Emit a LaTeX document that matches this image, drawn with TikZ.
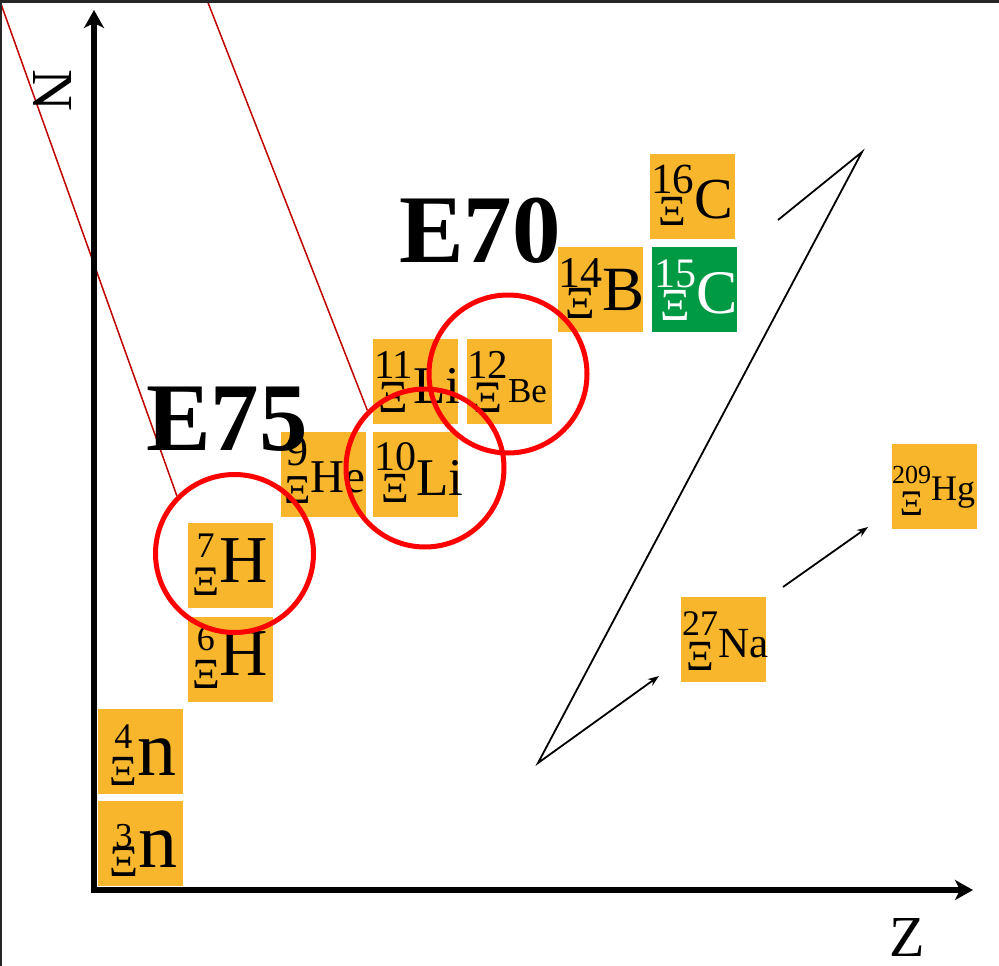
\documentclass[tikz,border=0pt]{standalone}
\usepackage{fontspec}
\setmainfont{Liberation Serif}
\usetikzlibrary{arrows.meta}
\definecolor{nucorange}{HTML}{F8B62D}
\definecolor{nucgreen}{HTML}{009A44}
\definecolor{ringred}{HTML}{FF0000}
\definecolor{guidered}{HTML}{C00000}
\definecolor{framegray}{HTML}{262626}
\newsavebox\nucAbox
\newsavebox\nucXbox
\newlength\nucwd
% #1 mass, #2 size, #3 raise, #4 Xi size, #5 Xi lower, #6 symbol, #7 symbol size
\newcommand\nucl[7]{%
  \sbox\nucAbox{\fontsize{#2pt}{#2pt}\selectfont #1}%
  \sbox\nucXbox{\fontsize{#4pt}{#4pt}\selectfont Ξ}%
  \ifdim\wd\nucAbox>\wd\nucXbox\setlength\nucwd{\wd\nucAbox}\else\setlength\nucwd{\wd\nucXbox}\fi
  \makebox[\nucwd]{\raisebox{#3pt}{\usebox\nucAbox}}\kern-\nucwd
  \makebox[\nucwd]{\raisebox{-#5pt}{\usebox\nucXbox}}%
  {\fontsize{#7pt}{#7pt}\selectfont #6}}
% #1 left pad, #2 baseline above bottom, #3 content
\newcommand\nucbx[3]{\makebox[85pt][l]{\kern#1pt\raisebox{0pt}[\dimexpr85pt-#2pt\relax][#2pt]{#3}}}
\begin{document}
\begin{tikzpicture}[x=1pt,y=-1pt,
  nucbox/.style={fill=nucorange, inner sep=0pt, outer sep=0pt},
  greenbox/.style={nucbox, fill=nucgreen, text=white},
  ring/.style={circle, draw=ringred, line width=5pt, minimum size=158pt, inner sep=0pt},
  guide/.style={draw=guidered, line width=1.5pt},
  flow/.style={draw=black, line width=1.8pt, -{Stealth[length=11pt,width=8pt]}},
  axis/.style={draw=black, line width=6pt, line join=miter,
    {Stealth[length=18pt,width=20pt,inset=5pt]}-{Stealth[length=18pt,width=20pt,inset=5pt]}},
  bigtag/.style={font=\fontsize{97pt}{97pt}\selectfont\bfseries, anchor=base west, inner sep=0pt},
  axislabel/.style={font=\fontsize{58pt}{58pt}\selectfont, inner sep=0pt}
]
\useasboundingbox (0,0) rectangle (999,966);
\fill[white] (0,0) rectangle (999,966);

% guide lines from the top
\coordinate (g1) at (-0.4,0);
\coordinate (g2) at (207,0);

% nuclide boxes
\node[nucbox] (n3)  at (140,843.5)   {\nucbx{12}{19}{\nucl{3}{35}{20}{45}{9}{n}{78}}};
\node[nucbox] (n4)  at (140,751.5)   {\nucbx{12}{19}{\nucl{4}{36}{27}{43}{10}{n}{78}}};
\node[nucbox] (h6)  at (230.5,659.5) {\nucbx{4}{27}{\nucl{6}{36}{25}{43}{13}{H}{67}}};
\node[nucbox] (h7)  at (230.5,565.5) {\nucbx{4}{26}{\nucl{7}{36}{25}{42}{13}{H}{67}}};
\node[nucbox] (he9) at (323.5,474.5) {\nucbx{3}{25}{\nucl{9}{44}{27}{41}{11}{He}{47}}};
\node[nucbox] (li10) at (415.5,474.5) {\nucbx{1}{22}{\nucl{10}{42}{25}{43}{7}{Li}{53}}};
\node[nucbox] (li11) at (415.5,381.5) {\nucbx{1}{21}{\nucl{11}{41}{25}{46}{9}{Li}{53}}};
\node[nucbox] (be12) at (509.5,381.5) {\nucbx{0}{22}{\nucl{12}{41}{24}{45}{10}{Be}{35}}};
\node[nucbox] (b14) at (600.5,289.5) {\nucbx{0}{22}{\nucl{14}{44}{23}{46}{8}{B}{63}}};
\node[greenbox] (c15) at (694.5,289.5) {\nucbx{2}{19}{\nucl{15}{42}{26}{46}{7}{C}{62}}};
\node[nucbox] (c16) at (692.5,196.5) {\nucbx{1}{21}{\nucl{16}{43}{25}{43}{7}{C}{58}}};
\node[nucbox] (na27) at (723.5,639.5) {\nucbx{1}{25}{\nucl{27}{36}{22}{43}{13}{Na}{43}}};
\node[nucbox] (hg209) at (934.5,486.5) {\nucbx{0}{29}{\nucl{209}{26}{17}{36}{15}{Hg}{36}}};

% rings
\node[ring] (r7)  at (234.5,553.5) {};
\node[ring] (r10) at (425,468) {};
\node[ring] (r12) at (508,374) {};

\draw[guide] (g1) -- (r7.135);
\draw[guide] (g2) -- (r10.135);

% experiment labels
\node[bigtag] (e75) at (146,450) {E75};
\node[bigtag] (e70) at (399,262) {E70};

% axes
\coordinate (ytip) at (94,10);
\coordinate (orig) at (94,890);
\coordinate (xtip) at (973,890);
\draw[axis] (ytip) -- (orig) -- (xtip);
\node[axislabel, rotate=-90] (nlab) at (52.5,90.5) {N};
\node[axislabel] (zlab) at (907.5,938) {Z};

% flow lines
\coordinate (f1) at (778,220);
\coordinate (f2) at (862,152);
\coordinate (f3) at (538,763);
\coordinate (f4) at (659,676);
\draw[flow] (f1) -- (f2) -- (f3) -- (f4);
\coordinate (f5) at (783,587);
\coordinate (f6) at (868,527);
\draw[flow] (f5) -- (f6);

% frame edges
\fill[framegray] (0,0) rectangle (999,3);
\fill[framegray] (0,0) rectangle (2,966);
\end{tikzpicture}
\end{document}
